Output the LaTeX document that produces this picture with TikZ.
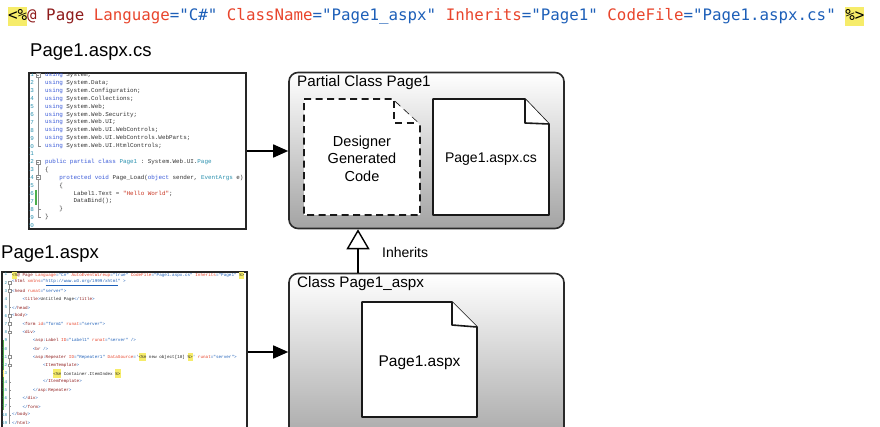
\documentclass[tikz,border=0pt]{standalone}
\usepackage{fontspec}
\setmainfont{Liberation Sans}
\setmonofont{Liberation Mono}
\newfontfamily\topfont{DejaVu Sans Mono}
\usetikzlibrary{arrows.meta}
\definecolor{hlY}{HTML}{F6EC6A}
\definecolor{dirC}{HTML}{8E1B1B}
\definecolor{attrC}{HTML}{E8452C}
\definecolor{valC}{HTML}{1D5FB8}
\definecolor{kwC}{HTML}{3A5BD9}
\definecolor{tpC}{HTML}{2B91AF}
\definecolor{strC}{HTML}{C8321E}
\definecolor{boxline}{HTML}{2A2A2A}
\newcommand\cHl[1]{{\setlength{\fboxsep}{0pt}\colorbox{hlY}{\strut #1}}}
\newcommand\cKw[1]{\textcolor{kwC}{#1}}
\newcommand\cTp[1]{\textcolor{tpC}{#1}}
\newcommand\cStr[1]{\textcolor{strC}{#1}}
\newcommand\cBl[1]{\textcolor{valC}{#1}}
\newcommand\cMr[1]{\textcolor{dirC}{#1}}
\newcommand\cRd[1]{\textcolor{attrC}{#1}}
\tikzset{
  lbl/.style={font=\fontsize{18.5}{22}\selectfont, inner sep=0pt},
  ttl/.style={font=\fontsize{15.2}{18}\selectfont, inner sep=0pt},
  doctxt/.style={font=\fontsize{14.5}{17.5}\selectfont, inner sep=0pt, align=center},
  grp/.style={draw=boxline, line width=1.6pt, rounded corners=9pt, top color=white, bottom color=black!36, inner sep=0pt},
  codebox/.style={draw=black!85, line width=1.6pt, fill=white, inner sep=0pt},
  docshape/.style={draw=black!90, line width=1.6pt, fill=white, line join=round},
  ddoc/.style={docshape, dash pattern=on 7pt off 4.5pt},
  conn/.style={line width=1.6pt, -{Triangle[length=15pt,width=13pt]}},
  inh/.style={line width=1.4pt, -{Triangle[open,length=20pt,width=23pt]}},
  codeA/.style={font=\ttfamily\fontsize{5.9}{7.9}\selectfont, text=black!80, inner sep=0pt, anchor=west},
  codeB/.style={font=\ttfamily\fontsize{4.3}{8.25}\selectfont, text=black!85, inner sep=0pt, anchor=west},
  lnA/.style={font=\ttfamily\fontsize{5.9}{7.9}\selectfont, text=tpC, inner sep=0pt, anchor=east},
  lnB/.style={font=\ttfamily\fontsize{4.3}{8.25}\selectfont, text=tpC, inner sep=0pt, anchor=east},
  gut/.style={draw=black!45, line width=0.4pt},
}
\begin{document}
\begin{tikzpicture}[x=1pt,y=-1pt]
\useasboundingbox (0,0) rectangle (880,427);
\clip (0,0) rectangle (880,427);

% top directive
\node[anchor=west, inner sep=0pt, font=\topfont\fontsize{15.8}{19}\selectfont] (directive) at (8,17)
 {\cHl{<\%}\cMr{@ Page} \cRd{Language}\cBl{="C\#"} \cRd{ClassName}\cBl{="Page1\_aspx"} \cRd{Inherits}\cBl{="Page1"} \cRd{CodeFile}\cBl{="Page1.aspx.cs"} \cHl{\%>}};

% labels
\node[lbl, anchor=base west] (lblcs) at (30,56.5) {Page1.aspx.cs};
\node[lbl, anchor=base west] (lblaspx) at (1,259) {Page1.aspx};

% code box 1
\node[codebox, minimum width=217pt, minimum height=156pt] (code1) at (137.5,151) {};
\begin{scope}
\clip (29.8,73.8) rectangle (245.2,228.2);
\foreach \i in {1,...,20} \node[lnA] (la\i) at ({34},{75+(\i-1)*7.9}) {\i};
\draw[gut] (38,77) -- (38,146.1) -- (41,146.1);
\draw[gut] (38,164) -- (38,217.2) -- (41,217.2);
\draw[gut] (38,209.3) -- (41,209.3);
\foreach \yy in {75,161.9,177.7} {
  \draw[gut, fill=white] (36,\yy-2) rectangle (40,\yy+2);
  \draw[gut] (36.8,\yy) -- (39.2,\yy);
}
\draw[draw=green!55!black!70, line width=1.4pt] (36,190) -- (36,205);
\node[codeA] (a1) at (45,75.0) {\cKw{using} System;};
\node[codeA] (a2) at (45,82.9) {\cKw{using} System.Data;};
\node[codeA] (a3) at (45,90.8) {\cKw{using} System.Configuration;};
\node[codeA] (a4) at (45,98.7) {\cKw{using} System.Collections;};
\node[codeA] (a5) at (45,106.6) {\cKw{using} System.Web;};
\node[codeA] (a6) at (45,114.5) {\cKw{using} System.Web.Security;};
\node[codeA] (a7) at (45,122.4) {\cKw{using} System.Web.UI;};
\node[codeA] (a8) at (45,130.3) {\cKw{using} System.Web.UI.WebControls;};
\node[codeA] (a9) at (45,138.2) {\cKw{using} System.Web.UI.WebControls.WebParts;};
\node[codeA] (a10) at (45,146.1) {\cKw{using} System.Web.UI.HtmlControls;};
\node[codeA] (a12) at (45,161.9) {\cKw{public partial class} \cTp{Page1} : System.Web.UI.\cTp{Page}};
\node[codeA] (a13) at (45,169.8) {\{};
\node[codeA] (a14) at (59.2,177.7) {\cKw{protected void} Page\_Load(\cKw{object} sender, \cTp{EventArgs} e)};
\node[codeA] (a15) at (59.2,185.6) {\{};
\node[codeA] (a16) at (73.3,193.5) {Label1.Text = \cStr{"Hello World"};};
\node[codeA] (a17) at (73.3,201.4) {DataBind();};
\node[codeA] (a18) at (59.2,209.3) {\}};
\node[codeA] (a19) at (45,217.2) {\}};
\end{scope}

% code box 2
\node[codebox, minimum width=245pt, minimum height=173pt] (code2) at (124.5,358.5) {};
\begin{scope}
\clip (2.8,272.8) rectangle (246.2,440);
\foreach \i in {1,...,19} \node[lnB] (lb\i) at ({7.5},{274.5+(\i-1)*8.25}) {\i};
\draw[gut] (9.6,283) -- (9.6,424);
\foreach \t in {5,14,15,16,17,18} \draw[gut] (9.6,{274.5+(\t-1)*8.25}) -- (11.2,{274.5+(\t-1)*8.25});
\foreach \t in {2,3,6,7,8,11,12} {
  \draw[gut, fill=white] (8.2,{274.5+(\t-1)*8.25-1.4}) rectangle (11,{274.5+(\t-1)*8.25+1.4});
}
\draw[draw=green!55!black!70, line width=1pt] (3.6,340) -- (3.6,410);
\draw[draw=hlY, line width=1pt] (3.6,370) -- (3.6,377);
\node[codeB] (b1) at (12,274.5) {\cHl{<\%}\cMr{@ Page} \cRd{Language}\cBl{="C\#"} \cRd{AutoEventWireup}\cBl{="true"} \cRd{CodeFile}\cBl{="Page1.aspx.cs"} \cRd{Inherits}\cBl{="Page1"} \cHl{\%>}};
\node[codeB] (b2) at (12,282.75) {\cBl{<}\cMr{html} \cRd{xmlns}\cBl{="\underline{http://www.w3.org/1999/xhtml}" >}};
\node[codeB] (b3) at (12,291.0) {\cBl{<}\cMr{head} \cRd{runat}\cBl{="server">}};
\node[codeB] (b4) at (22.32,299.25) {\cBl{<}\cMr{title}\cBl{>}Untitled Page\cBl{</}\cMr{title}\cBl{>}};
\node[codeB] (b5) at (12,307.5) {\cBl{</}\cMr{head}\cBl{>}};
\node[codeB] (b6) at (12,315.75) {\cBl{<}\cMr{body}\cBl{>}};
\node[codeB] (b7) at (22.32,324.0) {\cBl{<}\cMr{form} \cRd{id}\cBl{="form1"} \cRd{runat}\cBl{="server">}};
\node[codeB] (b8) at (22.32,332.25) {\cBl{<}\cMr{div}\cBl{>}};
\node[codeB] (b9) at (32.64,340.5) {\cBl{<}\cMr{asp}\cBl{:}\cMr{Label} \cRd{ID}\cBl{="Label1"} \cRd{runat}\cBl{="server" />}};
\node[codeB] (b10) at (32.64,348.75) {\cBl{<}\cMr{br} \cBl{/>}};
\node[codeB] (b11) at (32.64,357.0) {\cBl{<}\cMr{asp}\cBl{:}\cMr{Repeater} \cRd{ID}\cBl{="Repeater1"} \cRd{DataSource}\cBl{='}\cHl{<\%\#} new object[10] \cHl{\%>}\cBl{'} \cRd{runat}\cBl{="server">}};
\node[codeB] (b12) at (42.96,365.25) {\cBl{<}\cMr{ItemTemplate}\cBl{>}};
\node[codeB] (b13) at (53.28,373.5) {\cHl{<\%\#} Container.ItemIndex \cHl{\%>}};
\node[codeB] (b14) at (42.96,381.75) {\cBl{</}\cMr{ItemTemplate}\cBl{>}};
\node[codeB] (b15) at (32.64,390.0) {\cBl{</}\cMr{asp}\cBl{:}\cMr{Repeater}\cBl{>}};
\node[codeB] (b16) at (22.32,398.25) {\cBl{</}\cMr{div}\cBl{>}};
\node[codeB] (b17) at (22.32,406.5) {\cBl{</}\cMr{form}\cBl{>}};
\node[codeB] (b18) at (12,414.75) {\cBl{</}\cMr{body}\cBl{>}};
\node[codeB] (b19) at (12,423.0) {\cBl{</}\cMr{html}\cBl{>}};
\end{scope}

% group boxes
\node[grp, minimum width=275pt, minimum height=156pt] (partial) at (426.5,150.5) {};
\node[grp, minimum width=275pt, minimum height=177pt] (classbox) at (426.5,362) {};
\node[ttl, anchor=base west] (ptitle) at (297,87) {Partial Class Page1};
\node[ttl, anchor=base west] (ctitle) at (297,288) {Class Page1\_aspx};

% documents
\draw[ddoc] (304,99) -- (392,99) -- (420,125) -- (420,215) -- (304,215) -- cycle;
\draw[ddoc] (394,101) -- (394,123) -- (418,123);
\node[doctxt] (designer) at (362,158.5) {Designer\\Generated\\Code};

\draw[docshape] (433,99) -- (525,99) -- (549,124) -- (549,215) -- (433,215) -- cycle;
\draw[docshape] (525,99) -- (525,123) -- (549,124);
\node[doctxt, font=\fontsize{14}{17}\selectfont, anchor=base] (csdoc) at (491,163) {Page1.aspx.cs};

\draw[docshape] (362,302) -- (452,302) -- (477,327) -- (477,417) -- (362,417) -- cycle;
\draw[docshape] (452,302) -- (452,325) -- (477,327);
\node[doctxt, font=\fontsize{15.5}{18}\selectfont, anchor=base] (aspxdoc) at (419.5,366) {Page1.aspx};

% connectors
\coordinate (a2y) at (0,352);
\coordinate (inhx) at (358,0);
\draw[conn] (code1.east) -- (code1.east -| partial.west);
\draw[conn] (code2.east |- a2y) -- (classbox.west |- a2y);
\draw[inh] (classbox.north -| inhx) -- (partial.south -| inhx);
\node[font=\fontsize{14}{17}\selectfont, inner sep=0pt, anchor=base west] (inhlbl) at (382,258) {Inherits};
\end{tikzpicture}
\end{document}
